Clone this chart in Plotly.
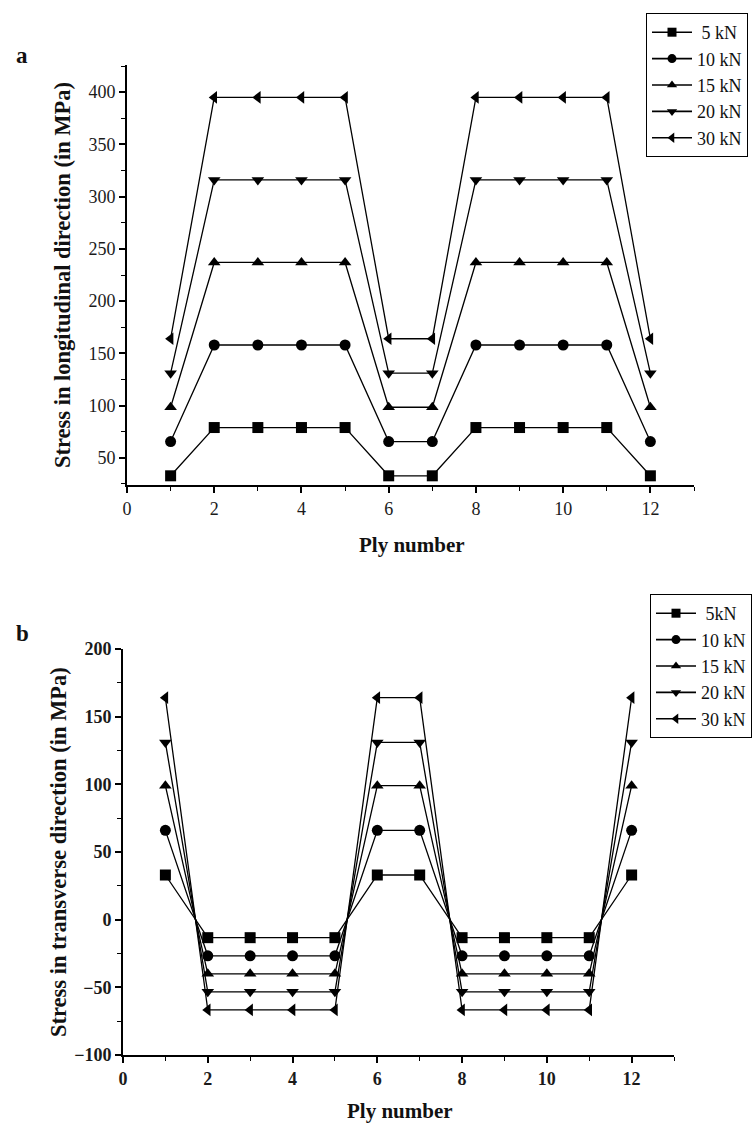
import plotly.graph_objects as go

W, H = 752, 1124

ply = list(range(1, 13))

# Panel a: stress in longitudinal direction (MPa)
long_5 = [32.8, 79, 79, 79, 79, 32.8, 32.8, 79, 79, 79, 79, 32.8]
long_10 = [65.6, 158, 158, 158, 158, 65.6, 65.6, 158, 158, 158, 158, 65.6]
long_15 = [98.4, 237, 237, 237, 237, 98.4, 98.4, 237, 237, 237, 237, 98.4]
long_20 = [131, 316, 316, 316, 316, 131, 131, 316, 316, 316, 316, 131]
long_30 = [164, 395, 395, 395, 395, 164, 164, 395, 395, 395, 395, 164]

# Panel b: stress in transverse direction (MPa)
trans_5 = [33, -13.3, -13.3, -13.3, -13.3, 33, 33, -13.3, -13.3, -13.3, -13.3, 33]
trans_10 = [66, -26.7, -26.7, -26.7, -26.7, 66, 66, -26.7, -26.7, -26.7, -26.7, 66]
trans_15 = [99, -40, -40, -40, -40, 99, 99, -40, -40, -40, -40, 99]
trans_20 = [131, -53.3, -53.3, -53.3, -53.3, 131, 131, -53.3, -53.3, -53.3, -53.3, 131]
trans_30 = [164, -66.7, -66.7, -66.7, -66.7, 164, 164, -66.7, -66.7, -66.7, -66.7, 164]

names_a = [" 5 kN", "10 kN", "15 kN", "20 kN", "30 kN"]
names_b = [" 5kN", "10 kN", "15 kN", "20 kN", "30 kN"]
symbols = ["square", "circle", "triangle-up", "triangle-down", "triangle-left"]

x_ticks = [0, 2, 4, 6, 8, 10, 12]
ya_ticks = [50, 100, 150, 200, 250, 300, 350, 400]
yb_ticks = [-100, -50, 0, 50, 100, 150, 200]

SERIF = "Liberation Serif"

fig = go.Figure()

def add_panel(names, series, xa, ya, leg):
    for name, sym, ys in zip(names, symbols, series):
        fig.add_trace(go.Scatter(
            x=ply, y=ys, mode="lines+markers", name=name, showlegend=False,
            line=dict(color="black", width=1.3),
            marker=dict(symbol=sym, size=11, color="black"),
            xaxis=xa, yaxis=ya))
        # legend entry (smaller marker, as in the original legend)
        fig.add_trace(go.Scatter(
            x=[None], y=[None], mode="lines+markers", name=name, showlegend=True,
            line=dict(color="black", width=1.6),
            marker=dict(symbol=sym, size=9, color="black"),
            xaxis=xa, yaxis=ya, legend=leg))

add_panel(names_a, [long_5, long_10, long_15, long_20, long_30], "x", "y", "legend")
add_panel(names_b, [trans_5, trans_10, trans_15, trans_20, trans_30], "x2", "y2", "legend2")

def px_x(p):
    return p / W

def px_y(p):
    return 1 - p / H

def axis_common(bold):
    return dict(
        showline=True, linecolor="black", linewidth=2,
        ticks="outside", ticklen=6, tickwidth=1.5, tickcolor="black",
        showgrid=False, zeroline=False,
        tickfont=dict(family=SERIF, size=18, color="#1a1a1a",
                      weight="bold" if bold else "normal"),
    )

minor_x = dict(ticks="outside", ticklen=4, tickwidth=1.2, tickcolor="black", dtick=1, tick0=0)
minor_y = dict(ticks="outside", ticklen=4, tickwidth=1.2, tickcolor="black", dtick=25, tick0=0)

fig.update_layout(
    width=W, height=H,
    margin=dict(l=0, r=0, t=0, b=0, autoexpand=False),
    paper_bgcolor="white", plot_bgcolor="white",
    showlegend=True,
    xaxis=dict(domain=[px_x(127), px_x(694)], range=[0, 13], anchor="y",
               tickvals=x_ticks, minor=minor_x, **axis_common(False)),
    yaxis=dict(domain=[px_y(485), px_y(65)], range=[24, 426], anchor="x",
               tickvals=ya_ticks, minor=minor_y, **axis_common(False)),
    xaxis2=dict(domain=[px_x(123), px_x(674)], range=[0, 13], anchor="y2",
                tickvals=x_ticks, minor=minor_x, **axis_common(True)),
    yaxis2=dict(domain=[px_y(1055), px_y(649)], range=[-100, 200], anchor="x2",
                tickvals=yb_ticks, minor=minor_y, **axis_common(True)),
    legend=dict(x=px_x(646), y=px_y(13), xanchor="left", yanchor="top",
                bordercolor="black", borderwidth=1, bgcolor="white",
                font=dict(family=SERIF, size=18, color="#111"),
                itemwidth=40, tracegroupgap=0),
    legend2=dict(x=px_x(650), y=px_y(594), xanchor="left", yanchor="top",
                 bordercolor="black", borderwidth=1, bgcolor="white",
                 font=dict(family=SERIF, size=18, color="#111"),
                 itemwidth=40, tracegroupgap=0),
)

annots = [
    dict(text="<b>a</b>", x=px_x(22), y=px_y(56), font=dict(size=23)),
    dict(text="<b>b</b>", x=px_x(22), y=px_y(633), font=dict(size=23)),
    dict(text="<b>Ply number</b>", x=px_x(412), y=px_y(545), font=dict(size=21)),
    dict(text="<b>Ply number</b>", x=px_x(400), y=px_y(1111), font=dict(size=21)),
    dict(text="<b>Stress in longitudinal direction (in MPa)</b>", x=px_x(63), y=px_y(275),
         font=dict(size=22.5), textangle=-90),
    dict(text="<b>Stress in transverse direction (in MPa)</b>", x=px_x(58), y=px_y(852),
         font=dict(size=22.5), textangle=-90),
]
for a in annots:
    a["font"].update(family=SERIF, color="#111")
    fig.add_annotation(xref="paper", yref="paper", showarrow=False,
                       xanchor="center", yanchor="middle", **a)

fig.write_html("out.html")
